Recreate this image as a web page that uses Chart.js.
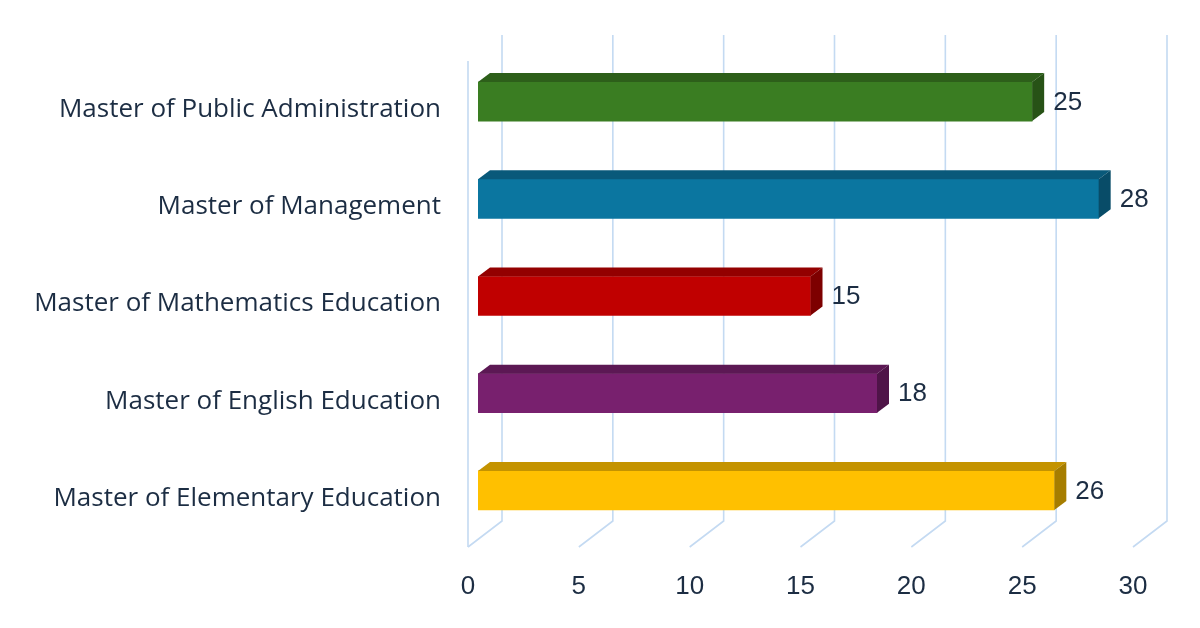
<!DOCTYPE html>
<html>
<head>
<meta charset="utf-8">
<script src="https://cdn.jsdelivr.net/npm/chart.js@4.4.1/dist/chart.umd.min.js"></script>
<style>
html,body{margin:0;padding:0;background:#ffffff;}
canvas{display:block;}
</style>
</head>
<body>
<canvas id="c" width="1200" height="628"></canvas>
<script>
const categories = [
  'Master of Public Administration',
  'Master of Management',
  'Master of Mathematics Education',
  'Master of English Education',
  'Master of Elementary Education'
];
const values = [25, 28, 15, 18, 26];
const frontColors = ['#3A7D22', '#0B76A0', '#C00000', '#78206E', '#FFC000'];
const topColors = ['#2D5F1A', '#09597A', '#930000', '#5C1854', '#C49300'];
const sideColors = ['#275216', '#084C68', '#7D0000', '#4F1448', '#A67D00'];
const xTickValues = [0, 5, 10, 15, 20, 25, 30];

const TEXT = '#1C2D43';
const GRID = '#C4DAF2';
const DEPTH_X = 34, DEPTH_Y = 26;   // back wall offset
const FRONT_X = 10, FRONT_Y = 8;    // bar front face offset
const BAR_DX = 12, BAR_DY = 9;      // bar depth

const threeD = {
  id: 'threeD',
  beforeDatasetsDraw(chart) {
    const ctx = chart.ctx;
    const xs = chart.scales.x;
    const {top, bottom} = chart.chartArea;
    ctx.save();
    ctx.strokeStyle = GRID;
    ctx.lineWidth = 1.6;
    xTickValues.forEach(v => {
      const px = xs.getPixelForValue(v);
      ctx.beginPath();
      ctx.moveTo(px, bottom);
      ctx.lineTo(px + DEPTH_X, bottom - DEPTH_Y);
      ctx.lineTo(px + DEPTH_X, top - DEPTH_Y);
      ctx.stroke();
    });
    const p0 = xs.getPixelForValue(0);
    ctx.beginPath();
    ctx.moveTo(p0, bottom);
    ctx.lineTo(p0, top);
    ctx.stroke();
    ctx.restore();
    ctx.save();
    ctx.translate(FRONT_X, -FRONT_Y);
  },
  afterDatasetsDraw(chart) {
    const ctx = chart.ctx;
    ctx.restore();
    const meta = chart.getDatasetMeta(0);
    ctx.save();
    meta.data.forEach((bar, i) => {
      const p = bar.getProps(['x', 'y', 'base', 'height'], true);
      const left = Math.min(p.base, p.x) + FRONT_X;
      const right = Math.max(p.base, p.x) + FRONT_X;
      const t = p.y - p.height / 2 - FRONT_Y;
      const b = p.y + p.height / 2 - FRONT_Y;
      ctx.fillStyle = topColors[i];
      ctx.beginPath();
      ctx.moveTo(left, t);
      ctx.lineTo(left + BAR_DX, t - BAR_DY);
      ctx.lineTo(right + BAR_DX, t - BAR_DY);
      ctx.lineTo(right, t);
      ctx.closePath();
      ctx.fill();
      ctx.fillStyle = sideColors[i];
      ctx.beginPath();
      ctx.moveTo(right, t);
      ctx.lineTo(right + BAR_DX, t - BAR_DY);
      ctx.lineTo(right + BAR_DX, b - BAR_DY);
      ctx.lineTo(right, b);
      ctx.closePath();
      ctx.fill();
      ctx.fillStyle = TEXT;
      ctx.font = '26px "Liberation Sans", Arial, sans-serif';
      ctx.textAlign = 'left';
      ctx.textBaseline = 'middle';
      ctx.fillText(String(values[i]), right + BAR_DX + 9, p.y - FRONT_Y + 1);
    });
    ctx.restore();
  }
};

new Chart(document.getElementById('c'), {
  type: 'bar',
  data: {
    labels: categories,
    datasets: [{
      data: values,
      backgroundColor: frontColors,
      borderWidth: 0,
      barThickness: 39
    }]
  },
  options: {
    indexAxis: 'y',
    responsive: false,
    animation: false,
    devicePixelRatio: 1,
    layout: {padding: {top: 61, right: 67, left: 0, bottom: 0}},
    plugins: {legend: {display: false}, tooltip: {enabled: false}},
    scales: {
      x: {
        min: 0, max: 30,
        afterBuildTicks(scale) { scale.ticks = xTickValues.map(v => ({value: v})); },
        ticks: {
          color: TEXT,
          padding: 24,
          font: {family: '"Liberation Sans", Arial, sans-serif', size: 26},
          maxRotation: 0
        },
        grid: {display: false, drawTicks: false},
        border: {display: false},
        afterFit(scale) { scale.height = 81; }
      },
      y: {
        ticks: {
          color: TEXT,
          padding: 27,
          font: {family: '"Open Sans", sans-serif', size: 26}
        },
        grid: {display: false, drawTicks: false},
        border: {display: false},
        afterFit(scale) { scale.width = 468; }
      }
    }
  },
  plugins: [threeD]
});
</script>
</body>
</html>
